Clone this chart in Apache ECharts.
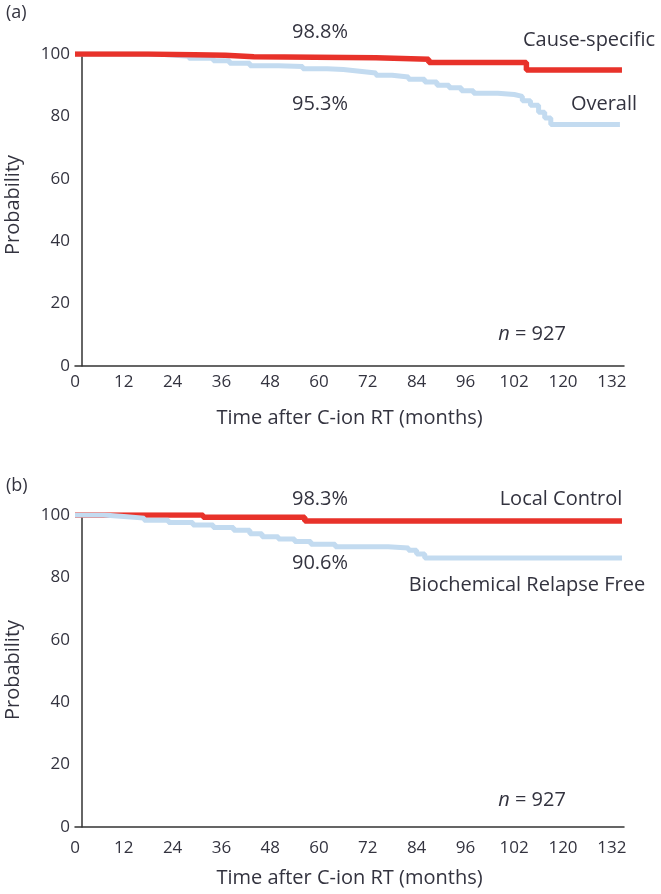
<!DOCTYPE html>
<html><head><meta charset="utf-8">
<script src="https://cdn.jsdelivr.net/npm/echarts@6/dist/echarts.min.js"></script>
<style>html,body{margin:0;padding:0;background:#fff}#c{width:661px;height:894px}</style>
</head><body><div id="c"></div>
<script>
// Tick labels as printed on the figure
const xTickLabels = ['0','12','24','36','48','60','72','84','96','102','120','132'];
const yTickLabels = ['0','20','40','60','80','100'];

// Panel (a): Cause-specific survival
const causeSpecificTime = [0, 18, 37, 44, 74, 87, 111, 134.5];
const causeSpecificProb = [100, 99.6, 99.1, 98.8, 98.3, 97.3, 94.9, 94.9];
// Panel (a): Overall survival
const overallTime = [0, 10, 22, 28, 34, 38, 43, 50, 56, 62, 66, 70, 74, 78, 82, 86, 89, 92, 95, 98, 104, 108, 110, 112, 114, 115.5, 117, 134];
const overallProb = [100, 99.8, 99.3, 98.6, 97.8, 97.0, 96.2, 96.0, 95.3, 95.0, 94.5, 93.9, 93.2, 92.6, 91.9, 91.0, 90.0, 89.2, 88.2, 87.4, 87.0, 86.4, 85.0, 83.6, 81.3, 79.5, 77.4, 77.2];

// Panel (b): Local control
const localControlTime = [0, 31.5, 56.5, 134.5];
const localControlProb = [100, 99.3, 98.1, 98.1];
// Panel (b): Biochemical relapse free
const bcrFreeTime = [0, 7, 12, 17, 23, 29, 34, 39, 43, 46, 50, 54, 58, 64, 77, 82, 84, 86, 134.5];
const bcrFreeProb = [100, 99.5, 99.0, 98.3, 97.6, 96.8, 96.0, 95.1, 94.0, 93.0, 92.3, 91.5, 90.6, 89.8, 89.4, 88.7, 87.5, 86.2, 86.0];

const pairs = (t, p) => t.map((v, i) => [v, p[i]]);

const TXT = '#33333f';
const RED = '#e8322a';
const BLUE = '#c3dbf0';
const FONT = 'Open Sans';

function xAxisCfg(gridIndex, margin, nameGap) {
  return {
    type: 'value', gridIndex, min: 0, max: 135, interval: 12,
    axisLine: {lineStyle: {color: '#333', width: 1.5}},
    axisTick: {show: false},
    splitLine: {show: false},
    axisLabel: {
      margin, color: TXT, fontFamily: FONT, fontSize: 17, showMaxLabel: false,
      formatter: v => (v % 12 === 0 ? xTickLabels[v / 12] : '')
    },
    name: 'Time after C-ion RT (months)', nameLocation: 'middle', nameGap,
    nameTextStyle: {color: TXT, fontFamily: FONT, fontSize: 20}
  };
}
function yAxisCfg(gridIndex) {
  return {
    type: 'value', gridIndex, min: 0, max: 100, interval: 20, offset: -7,
    axisLine: {show: true, lineStyle: {color: '#333', width: 1.5}},
    axisTick: {show: false},
    splitLine: {show: false},
    axisLabel: {
      margin: 12, color: TXT, fontFamily: FONT, fontSize: 17,
      formatter: v => yTickLabels[v / 20]
    }
  };
}
function txt(x, y, text, extra) {
  return Object.assign({
    type: 'text', x, y,
    style: Object.assign({text, fill: TXT, font: '20px "Open Sans"', align: 'center', verticalAlign: 'middle'}, (extra && extra.style) || {})
  }, extra && extra.rotation !== undefined ? {rotation: extra.rotation} : {});
}
function nText(x, y) {
  return {
    type: 'text', x, y,
    style: {
      text: '{i|n} = 927', fill: TXT, font: '20px "Open Sans"', align: 'center', verticalAlign: 'middle',
      rich: {i: {fontStyle: 'italic', fontFamily: FONT, fontSize: 20, fill: TXT}}
    }
  };
}

const chart = echarts.init(document.getElementById('c'), null, {renderer: 'canvas'});
chart.setOption({
  backgroundColor: '#fff',
  animation: false,
  grid: [
    {left: 75, right: 37, top: 54, height: 312},
    {left: 75, right: 37, top: 515, height: 312}
  ],
  xAxis: [xAxisCfg(0, 8, 42), xAxisCfg(1, 13, 41)],
  yAxis: [yAxisCfg(0), yAxisCfg(1)],
  series: [
    {type: 'line', xAxisIndex: 0, yAxisIndex: 0, step: 'end', symbol: 'none', z: 2,
     lineStyle: {color: BLUE, width: 5}, data: pairs(overallTime, overallProb)},
    {type: 'line', xAxisIndex: 0, yAxisIndex: 0, step: 'end', symbol: 'none', z: 3,
     lineStyle: {color: RED, width: 5.5}, data: pairs(causeSpecificTime, causeSpecificProb)},
    {type: 'line', xAxisIndex: 1, yAxisIndex: 1, step: 'end', symbol: 'none', z: 2,
     lineStyle: {color: RED, width: 5.5}, data: pairs(localControlTime, localControlProb)},
    {type: 'line', xAxisIndex: 1, yAxisIndex: 1, step: 'end', symbol: 'none', z: 3,
     lineStyle: {color: BLUE, width: 5}, data: pairs(bcrFreeTime, bcrFreeProb)}
  ],
  graphic: [
    txt(6, 13, '(a)', {style: {align: 'left', font: '18px "Open Sans"'}}),
    txt(320, 32, '98.8%'),
    txt(589, 40, 'Cause-specific'),
    txt(320, 104, '95.3%'),
    txt(604, 104, 'Overall'),
    txt(13, 205, 'Probability', {rotation: Math.PI / 2}),
    nText(532, 334),
    txt(6, 486, '(b)', {style: {align: 'left', font: '18px "Open Sans"'}}),
    txt(320, 499, '98.3%'),
    txt(561, 499, 'Local Control'),
    txt(320, 563, '90.6%'),
    txt(527, 585, 'Biochemical Relapse Free'),
    txt(13, 670, 'Probability', {rotation: Math.PI / 2}),
    nText(532, 800)
  ]
});
</script>
</body></html>
